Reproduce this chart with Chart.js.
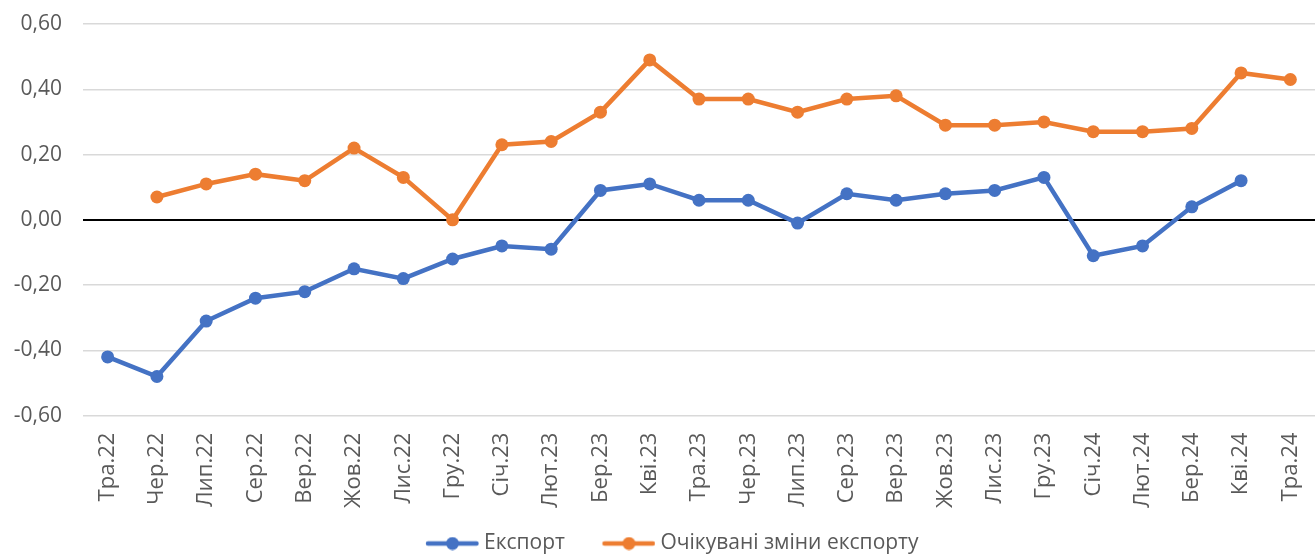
<!DOCTYPE html>
<html>
<head>
<meta charset="utf-8">
<script src="https://cdn.jsdelivr.net/npm/chart.js@4/dist/chart.umd.min.js"></script>
<style>
  html, body { margin: 0; padding: 0; background: #fff; }
  #wrap { width: 1315px; height: 554px; }
</style>
</head>
<body>
<div id="wrap"><canvas id="exportChart"></canvas></div>
<script>
var months = ['Тра.22','Чер.22','Лип.22','Сер.22','Вер.22','Жов.22','Лис.22','Гру.22',
  'Січ.23','Лют.23','Бер.23','Кві.23','Тра.23','Чер.23','Лип.23','Сер.23','Вер.23',
  'Жов.23','Лис.23','Гру.23','Січ.24','Лют.24','Бер.24','Кві.24','Тра.24'];

var exportVals = [-0.42,-0.48,-0.31,-0.24,-0.22,-0.15,-0.18,-0.12,
  -0.08,-0.09,0.09,0.11,0.06,0.06,-0.01,0.08,0.06,
  0.08,0.09,0.13,-0.11,-0.08,0.04,0.12,null];

var expectedVals = [null,0.07,0.11,0.14,0.12,0.22,0.13,0.00,
  0.23,0.24,0.33,0.49,0.37,0.37,0.33,0.37,0.38,
  0.29,0.29,0.30,0.27,0.27,0.28,0.45,0.43];

var seriesNames = ['Експорт', 'Очікувані зміни експорту'];
var yTicks = [-0.6, -0.4, -0.2, 0, 0.2, 0.4, 0.6];

var blue = '#4472C4';
var orange = '#ED7D31';
var fontName = "'Open Sans', sans-serif";

// line+dot marker for the legend, drawn off-centre so there is a gap before it
function legendMarker(color) {
  var c = document.createElement('canvas');
  c.width = 88; c.height = 14;
  var g = c.getContext('2d');
  g.strokeStyle = color;
  g.lineWidth = 4.5;
  g.lineCap = 'round';
  g.beginPath();
  g.moveTo(37, 7); g.lineTo(85.5, 7);
  g.stroke();
  g.fillStyle = color;
  g.beginPath();
  g.arc(61.5, 7, 6.5, 0, Math.PI * 2);
  g.fill();
  return c;
}

function fmt(v) {
  if (Math.abs(v) < 1e-9) v = 0;
  return v.toFixed(2).replace('.', ',');
}

var chartdata = {
  labels: months,
  datasets: [
    {
      label: seriesNames[0],
      data: exportVals,
      borderColor: blue,
      backgroundColor: blue,
      borderWidth: 4.5,
      pointRadius: 6.5,
      pointHoverRadius: 6.5,
      pointBorderWidth: 0,
      fill: false,
      spanGaps: false
    },
    {
      label: seriesNames[1],
      data: expectedVals,
      borderColor: orange,
      backgroundColor: orange,
      borderWidth: 4.5,
      pointRadius: 6.5,
      pointHoverRadius: 6.5,
      pointBorderWidth: 0,
      fill: false,
      spanGaps: false
    }
  ]
};

var markers = [legendMarker(blue), legendMarker(orange)];

var options = {
  responsive: true,
  maintainAspectRatio: false,
  animation: false,
  layout: { autoPadding: false, padding: { left: 0, right: 0, top: 24, bottom: -10 } },
  plugins: {
    tooltip: { enabled: false },
    legend: {
      display: true,
      position: 'bottom',
      labels: {
        usePointStyle: true,
        pointStyleWidth: 77,
        boxHeight: 14,
        color: '#595959',
        font: { family: fontName, size: 21 },
        padding: 8,
        generateLabels: function(chart) {
          return chart.data.datasets.map(function(ds, i) {
            return {
              text: ds.label,
              fillStyle: ds.borderColor,
              strokeStyle: ds.borderColor,
              fontColor: '#595959',
              pointStyle: markers[i],
              datasetIndex: i,
              hidden: false,
              lineWidth: 0
            };
          });
        }
      }
    }
  },
  scales: {
    x: {
      offset: true,
      grid: { display: false, drawTicks: false },
      border: { display: false },
      afterFit: function(s) { s.paddingLeft = 0; s.paddingRight = 0; },
      ticks: {
        color: '#595959',
        font: { family: fontName, size: 22 },
        minRotation: 90,
        maxRotation: 90,
        autoSkip: false,
        padding: 17
      }
    },
    y: {
      min: -0.6,
      max: 0.6,
      afterBuildTicks: function(axis) {
        axis.ticks = yTicks.map(function(v) { return { value: v }; });
      },
      afterFit: function(s) { s.width = 83; s.paddingTop = 0; s.paddingBottom = 0; },
      grid: {
        drawTicks: false,
        lineWidth: function(ctx) {
          return Math.abs(ctx.tick.value) < 1e-9 ? 2 : 1.5;
        },
        color: function(ctx) {
          return Math.abs(ctx.tick.value) < 1e-9 ? '#000000' : '#D9D9D9';
        }
      },
      border: { display: false },
      ticks: {
        color: '#595959',
        font: { family: fontName, size: 21 },
        padding: 21,
        callback: function(v) { return fmt(v); }
      }
    }
  }
};

var ctx = document.getElementById('exportChart');
var chart = new Chart(ctx, {
  type: 'line',
  data: chartdata,
  options: options
});
</script>
</body>
</html>
